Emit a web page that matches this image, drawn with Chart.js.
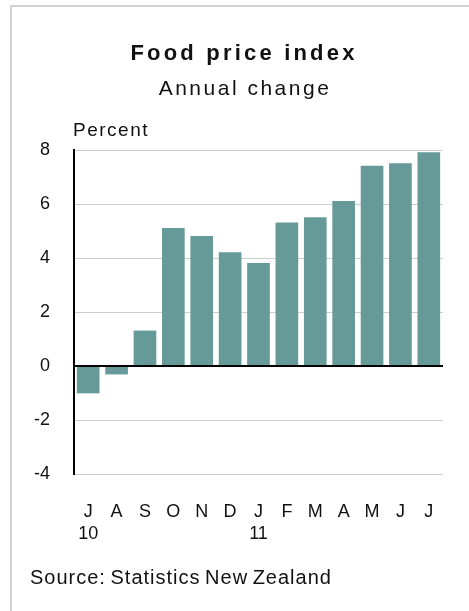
<!DOCTYPE html>
<html>
<head>
<meta charset="utf-8">
<script src="https://cdn.jsdelivr.net/npm/chart.js@4"></script>
<style>
    body { margin: 0; background: #fff; overflow: hidden; }
    #wrap { position: relative; width: 469px; height: 611px; }
    #frame {
        position: absolute; left: 10px; top: 5px; width: 480px; height: 620px;
        border-left: 2px solid #d2d2d2; border-top: 2px solid #d2d2d2;
    }
    canvas { position: absolute; left: 0; top: 0; }
    .txt {
        position: absolute; font-family: "Liberation Sans", Arial, sans-serif;
        color: #111; white-space: nowrap;
    }
    #title { left: 0; width: 488px; text-align: center; top: 41px; line-height: 24px;
        font-size: 22px; font-weight: bold; letter-spacing: 3.2px; }
    #subtitle { left: 0; width: 490px; text-align: center; top: 76px; line-height: 24px;
        font-size: 21px; letter-spacing: 2.5px; }
    #unit { left: 73px; top: 119px; line-height: 22px; font-size: 19px; letter-spacing: 1.5px; }
    #source { left: 30px; top: 566px; line-height: 22px; font-size: 20px;
        letter-spacing: 1px; word-spacing: -2px; }
</style>
</head>
<body>
<div id="wrap">
    <div id="frame"></div>
    <canvas id="foodChart" width="469" height="611"></canvas>
    <div class="txt" id="title">Food price index</div>
    <div class="txt" id="subtitle">Annual change</div>
    <div class="txt" id="unit">Percent</div>
    <div class="txt" id="source">Source: Statistics New Zealand</div>
</div>
<script>
// Month initials, with the year under each January/first month
const months = ['J', 'A', 'S', 'O', 'N', 'D', 'J', 'F', 'M', 'A', 'M', 'J', 'J'];
const years = ['10', '', '', '', '', '', '11', '', '', '', '', '', ''];

// Annual percentage change in the food price index
const annualChange = [-1.0, -0.3, 1.3, 5.1, 4.8, 4.2, 3.8, 5.3, 5.5, 6.1, 7.4, 7.5, 7.9];

// Y axis range and step
const yMin = -4;
const yMax = 8;
const yStep = 2;

const labels = months.map((m, i) => years[i] ? [m, years[i]] : m);

// Redraw the zero line over the bars so it stays solid black
const zeroLine = {
    id: 'zeroLine',
    afterDatasetsDraw(chart) {
        const { ctx, chartArea, scales } = chart;
        const y = Math.round(scales.y.getPixelForValue(0));
        ctx.save();
        ctx.strokeStyle = '#000';
        ctx.lineWidth = 2;
        ctx.beginPath();
        ctx.moveTo(chartArea.left, y);
        ctx.lineTo(chartArea.right, y);
        ctx.stroke();
        ctx.restore();
    }
};

const ctx = document.getElementById('foodChart').getContext('2d');
new Chart(ctx, {
    type: 'bar',
    data: {
        labels: labels,
        datasets: [{
            data: annualChange,
            backgroundColor: '#669a99',
            borderWidth: 0,
            barThickness: 22
        }]
    },
    options: {
        responsive: false,
        animation: false,
        layout: {
            padding: { left: 0, top: 150, right: 26, bottom: 0 }
        },
        plugins: {
            legend: { display: false },
            tooltip: { enabled: false }
        },
        scales: {
            x: {
                grid: { display: false, drawTicks: false },
                border: { display: false },
                ticks: {
                    color: '#111',
                    padding: 27,
                    maxRotation: 0,
                    autoSkip: false,
                    font: { family: '"Liberation Sans", Arial, sans-serif', size: 18, lineHeight: '22px' }
                },
                afterFit(scale) {
                    scale.height = 137;
                }
            },
            y: {
                min: yMin,
                max: yMax,
                grid: {
                    drawTicks: false,
                    color: '#cdcdcd',
                    lineWidth: 1
                },
                border: { display: true, color: '#000', width: 2 },
                ticks: {
                    stepSize: yStep,
                    color: '#111',
                    padding: 24,
                    font: { family: '"Liberation Sans", Arial, sans-serif', size: 18 }
                },
                afterFit(scale) {
                    scale.width = 74;
                }
            }
        }
    },
    plugins: [zeroLine]
});
</script>
</body>
</html>
